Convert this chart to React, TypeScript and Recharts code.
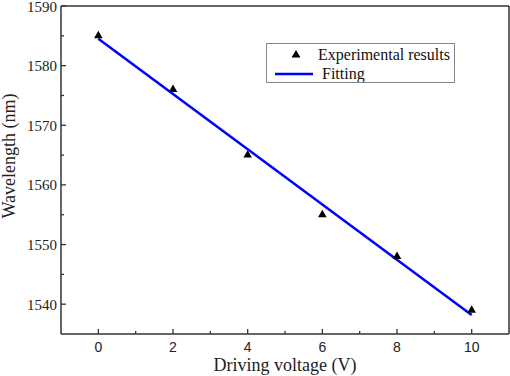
import React from "react";
import {
  ComposedChart,
  XAxis,
  YAxis,
  Scatter,
  Line,
  ZAxis,
  ReferenceLine,
} from "recharts";

// Data
const voltages = [0, 2, 4, 6, 8, 10];
const wavelengths = [1585, 1576, 1565, 1555, 1548, 1539];
const fitVoltages = [0, 10];
const fitWavelengths = [1584.5, 1538.2];

const xMajorTicks = [0, 2, 4, 6, 8, 10];
const xAllTicks = [0, 1, 2, 3, 4, 5, 6, 7, 8, 9, 10];
const yMajorTicks = [1540, 1550, 1560, 1570, 1580, 1590];
const yAllTicks = [1540, 1545, 1550, 1555, 1560, 1565, 1570, 1575, 1580, 1585, 1590];

const seriesNames = ["Experimental results", "Fitting"];

const expData = voltages.map((v, i) => ({ x: v, y: wavelengths[i] }));
const fitData = fitVoltages.map((v, i) => ({ x: v, fit: fitWavelengths[i] }));

const AXIS_COLOR = "#333";
const SERIF = "'Liberation Serif', 'Times New Roman', serif";
const SANS = "'Liberation Sans', Arial, sans-serif";

const XTick = (props: any) => {
  const { x, y, payload } = props;
  const v = payload.value;
  const major = xMajorTicks.includes(v);
  return (
    <g>
      <line x1={x} x2={x} y1={y} y2={y - (major ? 5 : 3)} stroke={AXIS_COLOR} strokeWidth={1.3} />
      {major && (
        <text x={x} y={y + 18} textAnchor="middle" fontFamily={SANS} fontSize={14} fill="#222">
          {v}
        </text>
      )}
    </g>
  );
};

const YTick = (props: any) => {
  const { x, y, payload } = props;
  const v = payload.value;
  const major = yMajorTicks.includes(v);
  return (
    <g>
      <line x1={x} x2={x + (major ? 5 : 3)} y1={y} y2={y} stroke={AXIS_COLOR} strokeWidth={1.3} />
      {major && (
        <text x={x - 4} y={y + 5.5} textAnchor="end" fontFamily={SERIF} fontSize={15} fill="#222">
          {v}
        </text>
      )}
    </g>
  );
};

const LegendBox = () => (
  <div
    style={{
      position: "absolute",
      left: 266,
      top: 43,
      width: 187,
      height: 38,
      border: "1px solid #888",
      background: "#fff",
    }}
  >
    <svg width={187} height={38} style={{ position: "absolute", left: 0, top: 0 }}>
      <path d="M29,6 L33.5,13.5 L24.5,13.5 Z" fill="#000" />
      <line x1={8} x2={46} y1={30} y2={30} stroke="#0000ff" strokeWidth={2.5} />
      <text x={51} y={16} fontFamily={SERIF} fontSize={16} fill="#111">
        {seriesNames[0]}
      </text>
      <text x={55} y={35} fontFamily={SERIF} fontSize={16} fill="#111">
        {seriesNames[1]}
      </text>
    </svg>
  </div>
);

export default function App() {
  return (
    <div style={{ position: "absolute", left: 0, top: 0, width: 510, height: 376, background: "#fff" }}>
      <ComposedChart width={510} height={376} margin={{ top: 6, right: 1, bottom: 0, left: 11 }}>
        <XAxis
          dataKey="x"
          type="number"
          domain={[-1, 11]}
          ticks={xAllTicks}
          interval={0}
          allowDataOverflow
          height={42}
          tickSize={0}
          tickMargin={0}
          tickLine={false}
          axisLine={{ stroke: AXIS_COLOR, strokeWidth: 1.5 }}
          tick={<XTick />}
          label={{
            content: (p: any) => {
              const vb = p.viewBox;
              return (
                <text
                  x={vb.x + vb.width / 2}
                  y={vb.y + 36.5}
                  textAnchor="middle"
                  fontFamily={SERIF}
                  fontSize={18}
                  fill="#222"
                >
                  Driving voltage (V)
                </text>
              );
            },
          }}
        />
        <YAxis
          type="number"
          domain={[1535, 1590]}
          ticks={yAllTicks}
          interval={0}
          allowDataOverflow
          width={50}
          tickSize={0}
          tickMargin={0}
          tickLine={false}
          axisLine={{ stroke: AXIS_COLOR, strokeWidth: 1.5 }}
          tick={<YTick />}
          label={{
            content: () => (
              <text
                x={0}
                y={0}
                transform="translate(15, 156) rotate(-90)"
                textAnchor="middle"
                fontFamily={SERIF}
                fontSize={18}
                fill="#222"
              >
                Wavelength (nm)
              </text>
            ),
          }}
        />
        <ZAxis range={[32, 32]} />
        <ReferenceLine y={1590} stroke={AXIS_COLOR} strokeWidth={1.5} ifOverflow="visible" />
        <ReferenceLine x={11} stroke={AXIS_COLOR} strokeWidth={1.5} ifOverflow="visible" />
        <Line
          data={fitData}
          dataKey="fit"
          type="linear"
          name={seriesNames[1]}
          stroke="#0000ff"
          strokeWidth={2.5}
          dot={false}
          activeDot={false}
          isAnimationActive={false}
        />
        <Scatter
          data={expData}
          dataKey="y"
          name={seriesNames[0]}
          shape="triangle"
          fill="#000"
          isAnimationActive={false}
        />
      </ComposedChart>
      <LegendBox />
    </div>
  );
}
